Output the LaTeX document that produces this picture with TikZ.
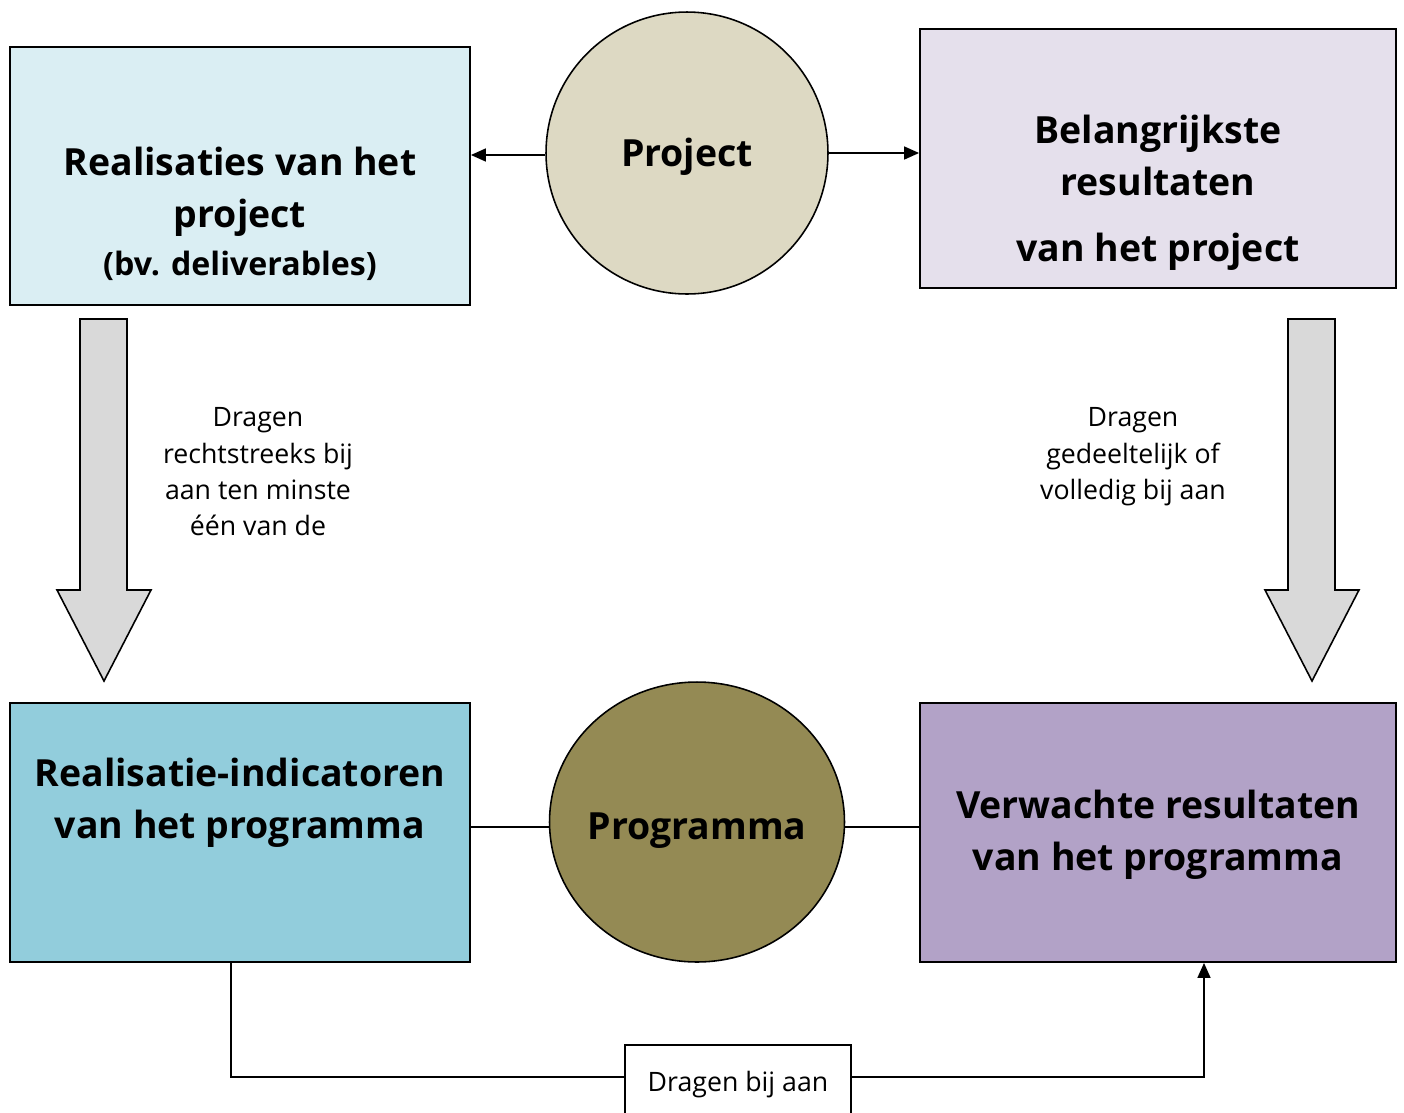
\documentclass[tikz,border=0pt]{standalone}
\usepackage{fontspec}
\setmainfont{Open Sans}
\usetikzlibrary{arrows.meta,shapes.geometric}
\definecolor{boxa}{HTML}{DAEEF3}
\definecolor{boxb}{HTML}{E5E0EC}
\definecolor{boxc}{HTML}{92CDDC}
\definecolor{boxd}{HTML}{B2A2C7}
\definecolor{circa}{HTML}{DDD9C3}
\definecolor{circb}{HTML}{948A54}
\definecolor{bigarr}{HTML}{D9D9D9}
\tikzset{
  box/.style={draw=black, line width=1.1pt, rectangle, inner sep=0pt},
  bigtxt/.style={font=\bfseries\fontsize{21.3}{29.5}\selectfont, align=center, inner sep=0pt},
  smalltxt/.style={font=\fontsize{15.2}{20.7}\selectfont, align=center, inner sep=0pt},
  conn/.style={draw=black, line width=0.9pt},
  tip/.style={-{Triangle[length=0.3cm,width=0.26cm]}},
  fatarrow/.style={draw=black, line width=0.9pt, fill=bigarr, line join=miter}
}
\begin{document}
\begin{tikzpicture}[x=0.02cm,y=-0.02cm]
\useasboundingbox (0,0) rectangle (1404,1113);
% boxes
\node[box, fill=boxa, minimum width=9.2cm, minimum height=5.16cm] (b1) at (240,176) {};
\node[box, fill=boxb, minimum width=9.52cm, minimum height=5.18cm] (b2) at (1158,158.5) {};
\node[box, fill=boxc, minimum width=9.2cm, minimum height=5.18cm] (b3) at (240,832.5) {};
\node[box, fill=boxd, minimum width=9.52cm, minimum height=5.18cm] (b4) at (1158,832.5) {};
% circles
\node[draw=black, line width=0.9pt, circle, fill=circa, minimum size=5.64cm, inner sep=0pt] (pc) at (687,153) {};
\node[draw=black, line width=0.9pt, ellipse, fill=circb, minimum width=5.9cm, minimum height=5.6cm, inner sep=0pt] (pg) at (697,822) {};
% texts
\node[bigtxt] (t1) at (240,214) {Realisaties van het\\project\\[-2pt]{\fontsize{18.3}{26}\selectfont (bv. deliverables)}};
\node[bigtxt] (t2) at (1158,193) {Belangrijkste\\resultaten\\[8pt]van het project};
\node[bigtxt] (t3) at (240,803) {Realisatie-indicatoren\\van het programma};
\node[bigtxt] (t4) at (1158,835) {Verwachte resultaten\\van het programma};
\node[bigtxt] (tp) at (687,157) {Project};
\node[bigtxt] (tg) at (697,831) {Programma};
\node[smalltxt] (s1) at (258,472) {Dragen\\rechtstreeks bij\\aan ten minste\\één van de};
\node[smalltxt] (s2) at (1133,457) {Dragen\\gedeeltelijk of\\volledig bij aan};
% connectors top
\draw[conn, tip] (pc.west |- 0,155) -- (b1.east |- 0,155);
\draw[conn, tip] (pc.east |- 0,153) -- (b2.west |- 0,153);
% connectors middle
\draw[conn] (b3.east |- 0,827) -- (pg.west |- 0,827);
\draw[conn] (pg.east |- 0,827) -- (b4.west |- 0,827);
% big arrows
\draw[fatarrow] (80,319) -- (127,319) -- (127,590) -- (151,590) -- (104,681) -- (57,590) -- (80,590) -- cycle;
\draw[fatarrow] (1288,319) -- (1335,319) -- (1335,590) -- (1359,590) -- (1312,681) -- (1265,590) -- (1288,590) -- cycle;
% bottom
\node[draw=black, line width=0.9pt, fill=white, minimum width=4.52cm, minimum height=1.6cm, font=\fontsize{15.2}{20.7}\selectfont, inner sep=0pt] (lbl) at (738,1085) {Dragen bij aan};
\coordinate (cl) at (231,1077);
\coordinate (cr) at (1204,1077);
\draw[conn] (b3.south -| cl) -- (cl) -- (lbl.west |- cl);
\draw[conn, tip] (lbl.east |- cr) -- (cr) -- (b4.south -| cr);
\end{tikzpicture}
\end{document}
